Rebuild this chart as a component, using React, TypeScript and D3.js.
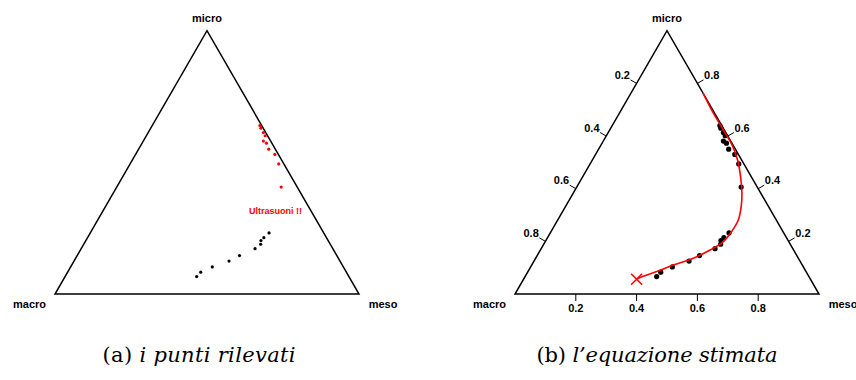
import React from 'react';
import * as d3 from 'd3';

// ---- data (compositions) ----
const cornerNames = ['macro', 'meso', 'micro'];
const tickValues = [0.2, 0.4, 0.6, 0.8];
const tickLabels = ['0.2', '0.4', '0.6', '0.8'];

const obsMacro = [0.006, 0.008, 0.008, 0.008, 0.024, 0.018, 0.022, 0.012, 0.017, 0.053,
  0.180, 0.206, 0.221, 0.229, 0.256, 0.320, 0.365, 0.431, 0.479, 0.501];
const obsMeso = [0.354, 0.362, 0.379, 0.391, 0.395, 0.409, 0.428, 0.458, 0.489, 0.541,
  0.588, 0.580, 0.576, 0.582, 0.572, 0.534, 0.510, 0.466, 0.438, 0.433];
const obsMicro = [0.640, 0.630, 0.613, 0.601, 0.581, 0.573, 0.550, 0.530, 0.494, 0.406,
  0.232, 0.214, 0.203, 0.189, 0.172, 0.146, 0.125, 0.103, 0.083, 0.066];
const obsUltrasound = [true, true, true, true, true, true, true, true, true, true,
  false, false, false, false, false, false, false, false, false, false];

const fitMacro = [0.000, 0.004, 0.003, 0.003, 0.013, 0.035, 0.062, 0.090, 0.125, 0.169,
  0.215, 0.275, 0.345, 0.425, 0.491, 0.557, 0.572];
const fitMeso = [0.237, 0.309, 0.373, 0.430, 0.477, 0.519, 0.555, 0.578, 0.594, 0.594,
  0.586, 0.558, 0.519, 0.465, 0.424, 0.380, 0.372];
const fitMicro = [0.763, 0.687, 0.624, 0.567, 0.510, 0.446, 0.383, 0.332, 0.281, 0.237,
  0.199, 0.167, 0.136, 0.110, 0.085, 0.063, 0.056];

const annotationText = 'Ultrasuoni !!';
const annotationComp = [0.117, 0.567, 0.316];

const captionTags = ['(a)', '(b)'];
const captionTexts = ['i punti rilevati', 'l\u2019equazione stimata'];

// ---- layout ----
const W = 856, H = 380;
const SIDE = 304;
const BASE_Y = 294;
const TRI_H = SIDE * Math.sqrt(3) / 2;
const panelLeft = [55, 515];
const captionCx = [199, 657];
const captionW = [193, 241];

function makeProj(x0: number) {
  const xs = d3.scaleLinear().domain([0, 1]).range([x0, x0 + SIDE]);
  const ys = d3.scaleLinear().domain([0, 1]).range([BASE_Y, BASE_Y - TRI_H]);
  return (meso: number, micro: number): [number, number] => [xs(meso + micro / 2), ys(micro)];
}

const sansBold = { fontFamily: 'Liberation Sans, Arial, sans-serif', fontWeight: 700 } as const;

function Triangle({ proj }: { proj: (a: number, b: number) => [number, number] }) {
  const A = proj(0, 0), B = proj(1, 0), C = proj(0, 1);
  return (
    <g>
      <path d={`M${A[0]},${A[1]}L${B[0]},${B[1]}L${C[0]},${C[1]}Z`} fill="none" stroke="#000" strokeWidth={1.5} strokeLinejoin="miter" />
      <text x={A[0] - 25.5} y={A[1] + 13.7} textAnchor="middle" fontSize={11} {...sansBold}>{cornerNames[0]}</text>
      <text x={B[0] + 24} y={B[1] + 13.7} textAnchor="middle" fontSize={11} {...sansBold}>{cornerNames[1]}</text>
      <text x={C[0]} y={C[1] - 8.5} textAnchor="middle" fontSize={11} {...sansBold}>{cornerNames[2]}</text>
    </g>
  );
}

function Ticks({ proj }: { proj: (a: number, b: number) => [number, number] }) {
  const L = 7, D = 16.5;
  const c = Math.sqrt(3) / 2;
  const items: React.ReactNode[] = [];
  tickValues.forEach((v, i) => {
    // bottom: meso
    const pb = proj(v, 0);
    items.push(<line key={'b' + i} x1={pb[0]} y1={pb[1]} x2={pb[0]} y2={pb[1] + L} stroke="#000" strokeWidth={1} />);
    items.push(<text key={'bt' + i} x={pb[0]} y={pb[1] + 17.7} textAnchor="middle" fontSize={11} {...sansBold}>{tickLabels[i]}</text>);
    // left: macro
    const pl = proj(0, 1 - v);
    items.push(<line key={'l' + i} x1={pl[0]} y1={pl[1]} x2={pl[0] - c * L} y2={pl[1] - 0.5 * L} stroke="#000" strokeWidth={1} />);
    items.push(<text key={'lt' + i} x={pl[0] - c * D} y={pl[1] - 0.5 * D + 4} textAnchor="middle" fontSize={11} {...sansBold}>{tickLabels[i]}</text>);
    // right: micro
    const pr = proj(1 - v, v);
    items.push(<line key={'r' + i} x1={pr[0]} y1={pr[1]} x2={pr[0] + c * L} y2={pr[1] - 0.5 * L} stroke="#000" strokeWidth={1} />);
    items.push(<text key={'rt' + i} x={pr[0] + c * D} y={pr[1] - 0.5 * D + 4} textAnchor="middle" fontSize={11} {...sansBold}>{tickLabels[i]}</text>);
  });
  return <g>{items}</g>;
}

export default function App() {
  const projA = makeProj(panelLeft[0]);
  const projB = makeProj(panelLeft[1]);
  const idx = d3.range(obsMeso.length);
  const fitIdx = d3.range(fitMeso.length);
  const line = d3.line<number>()
    .x(i => projB(fitMeso[i], fitMicro[i])[0])
    .y(i => projB(fitMeso[i], fitMicro[i])[1])
    .curve(d3.curveCatmullRom.alpha(0.5));
  const end = projB(fitMeso[fitMeso.length - 1], fitMicro[fitMicro.length - 1]);
  const ann = projA(annotationComp[1], annotationComp[2]);
  const m = 5.5;

  return (
    <svg width={W} height={H} style={{ position: 'absolute', left: 0, top: 0, background: '#fff' }}>
      <rect width={W} height={H} fill="#fff" />
      {/* panel (a) */}
      <Triangle proj={projA} />
      {idx.map(i => {
        const p = projA(obsMeso[i], obsMicro[i]);
        return <circle key={i} cx={p[0]} cy={p[1]} r={1.6} fill={obsUltrasound[i] ? '#ff0000' : '#000'} />;
      })}
      <text x={ann[0]} y={ann[1] + 3} textAnchor="middle" fontSize={9} fill="#ff0000" {...sansBold}>{annotationText}</text>

      {/* panel (b) */}
      <Triangle proj={projB} />
      <Ticks proj={projB} />
      {idx.map(i => {
        const p = projB(obsMeso[i], obsMicro[i]);
        return <circle key={i} cx={p[0]} cy={p[1]} r={2.6} fill="#000" />;
      })}
      <path d={line(fitIdx) || ''} fill="none" stroke="#ff0000" strokeWidth={1.6} />
      <path d={`M${end[0] - m},${end[1] - m}L${end[0] + m},${end[1] + m}M${end[0] - m},${end[1] + m}L${end[0] + m},${end[1] - m}`} stroke="#ff0000" strokeWidth={1.5} fill="none" />

      {/* captions */}
      {captionTags.map((t, i) => (
        <text key={i} x={captionCx[i]} y={362} textAnchor="middle" fontSize={21}
          fontFamily="DejaVu Serif, serif" fill="#000" textLength={captionW[i]} lengthAdjust="spacing">
          <tspan>{t} </tspan>
          <tspan fontStyle="italic">{captionTexts[i]}</tspan>
        </text>
      ))}
    </svg>
  );
}
